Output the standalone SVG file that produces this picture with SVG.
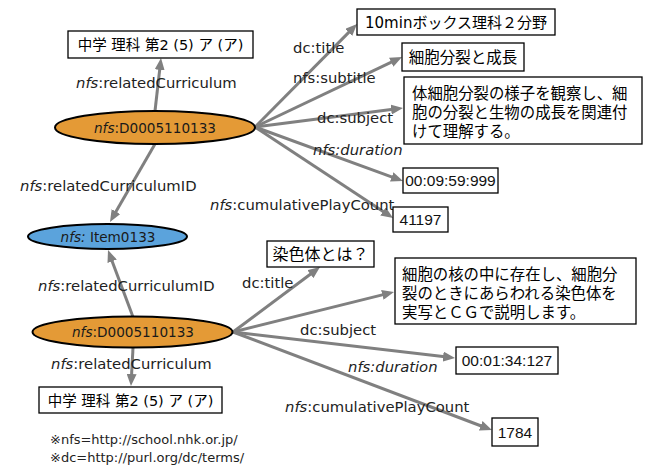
<svg xmlns="http://www.w3.org/2000/svg" width="647" height="468" viewBox="0 0 647 468">
<defs>
<marker id="ah" viewBox="0 0 12 10" refX="2" refY="5" markerWidth="12" markerHeight="10" markerUnits="userSpaceOnUse" orient="auto">
<path d="M0,0 L12,5 L0,10 z" fill="#808080"/>
</marker>
</defs>
<style>
.bg{fill:#ffffff}
.edge{stroke:#808080;stroke-width:3;fill:none;marker-end:url(#ah)}
.box{fill:#ffffff;stroke:#000000;stroke-width:1.3}
.res{fill:#E49A36;stroke:#000000;stroke-width:2}
.item{fill:#5BA3DC;stroke:#000000;stroke-width:2}
.lbl{font-family:"DejaVu Sans","Noto Sans CJK JP",sans-serif;font-size:14.8px;fill:#222222}
.ntx{font-family:"DejaVu Sans","Noto Sans CJK JP",sans-serif;font-size:13.6px;fill:#1a1a1a;text-anchor:middle}
.jp{font-family:"DejaVu Sans","Noto Sans CJK JP",sans-serif;font-size:15px;fill:#000000}
.num{font-family:"Liberation Sans",Arial,sans-serif;font-size:15.5px;fill:#111111;text-anchor:middle}
.mid{text-anchor:middle}
.i{font-style:italic}
.note{font-family:"DejaVu Sans","Noto Sans CJK JP",sans-serif;font-size:13px;fill:#222222}
</style>
<rect class="bg" x="0" y="0" width="647" height="468"/>

<g id="connectors">
<line class="edge" x1="155" y1="111" x2="159.9" y2="67.9"/>
<line class="edge" x1="155" y1="144" x2="115" y2="213.3"/>
<line class="edge" x1="133" y1="317" x2="111.5" y2="259.4"/>
<line class="edge" x1="133" y1="348" x2="131.5" y2="376"/>
<line class="edge" x1="255" y1="127" x2="350" y2="31.1"/>
<line class="edge" x1="255" y1="127" x2="393" y2="61.3"/>
<line class="edge" x1="255" y1="127" x2="393.1" y2="109.3"/>
<line class="edge" x1="255" y1="127" x2="393.6" y2="177.6"/>
<line class="edge" x1="255" y1="127" x2="384.7" y2="212.5"/>
<line class="edge" x1="233" y1="332" x2="312" y2="273"/>
<line class="edge" x1="233" y1="332" x2="384.3" y2="294.4"/>
<line class="edge" x1="233" y1="332" x2="445.1" y2="356.8"/>
<line class="edge" x1="233" y1="332" x2="482.6" y2="426.5"/>
</g>

<g id="edge-labels">
<text class="lbl" x="76" y="88"><tspan class="i">nfs</tspan>:relatedCurriculum</text>
<text class="lbl" x="20" y="191"><tspan class="i">nfs</tspan>:relatedCurriculumID</text>
<text class="lbl" x="210" y="210"><tspan class="i">nfs</tspan>:cumulativePlayCount</text>
<text class="lbl" x="293" y="53">dc:title</text>
<text class="lbl" x="293" y="83">nfs:subtitle</text>
<text class="lbl" x="317" y="123">dc:subject</text>
<text class="lbl i" x="313" y="155">nfs:duration</text>
<text class="lbl" x="38" y="291"><tspan class="i">nfs</tspan>:relatedCurriculumID</text>
<text class="lbl" x="51" y="369"><tspan class="i">nfs</tspan>:relatedCurriculum</text>
<text class="lbl" x="242" y="288">dc:title</text>
<text class="lbl" x="300" y="335">dc:subject</text>
<text class="lbl i" x="348" y="372">nfs:duration</text>
<text class="lbl" x="285" y="412"><tspan class="i">nfs</tspan>:cumulativePlayCount</text>
</g>

<g id="node-res1">
<ellipse class="res" cx="155" cy="127.5" rx="100" ry="16.5"/>
<text class="ntx" x="155" y="133"><tspan class="i">nfs</tspan>:D0005110133</text>
</g>
<g id="node-item">
<ellipse class="item" cx="107.5" cy="236.5" rx="79.5" ry="12.5"/>
<text class="ntx" x="108" y="242"><tspan class="i">nfs:</tspan> Item0133</text>
</g>
<g id="node-res2">
<ellipse class="res" cx="132.5" cy="332" rx="100" ry="15.5"/>
<text class="ntx" x="133" y="337"><tspan class="i">nfs</tspan>:D0005110133</text>
</g>

<g id="node-curr1">
<rect class="box" x="68" y="31" width="185" height="27"/>
<text class="jp mid" x="160.5" y="50" style="font-size:14.5px">中学 理科 第2 (5) ア (ア)</text>
</g>
<g id="node-title1">
<rect class="box" x="357" y="9" width="198" height="26"/>
<text class="jp mid" x="456" y="28">10minボックス理科２分野</text>
</g>
<g id="node-subtitle1">
<rect class="box" x="402" y="43" width="122" height="28"/>
<text class="jp mid" x="463" y="63" style="font-size:15.5px">細胞分裂と成長</text>
</g>
<g id="node-subject1">
<rect class="box" x="404" y="77" width="238" height="67"/>
<text class="jp" x="412" y="99" style="font-size:15.4px">体細胞分裂の様子を観察し、細</text>
<text class="jp" x="412" y="118" style="font-size:15.4px">胞の分裂と生物の成長を関連付</text>
<text class="jp" x="412" y="137" style="font-size:15.4px">けて理解する。</text>
</g>
<g id="node-duration1">
<rect class="box" x="403" y="168" width="95" height="25"/>
<text class="num" x="450.5" y="186">00:09:59:999</text>
</g>
<g id="node-count1">
<rect class="box" x="393" y="207" width="55" height="25"/>
<text class="num" x="420.5" y="225">41197</text>
</g>

<g id="node-title2">
<rect class="box" x="267" y="241" width="107" height="26"/>
<text class="jp mid" x="320.5" y="260" style="font-size:16px">染色体とは？</text>
</g>
<g id="node-subject2">
<rect class="box" x="395" y="258" width="241" height="66"/>
<text class="jp" x="402" y="280" style="font-size:15.4px">細胞の核の中に存在し、細胞分</text>
<text class="jp" x="402" y="299" style="font-size:15.4px">裂のときにあらわれる染色体を</text>
<text class="jp" x="402" y="318" style="font-size:15.4px">実写とＣＧで説明します。</text>
</g>
<g id="node-duration2">
<rect class="box" x="456" y="347" width="102" height="27"/>
<text class="num" x="507" y="366">00:01:34:127</text>
</g>
<g id="node-count2">
<rect class="box" x="492" y="418" width="46" height="28"/>
<text class="num" x="515" y="437.5">1784</text>
</g>
<g id="node-curr2">
<rect class="box" x="39" y="387" width="183" height="26"/>
<text class="jp mid" x="130.5" y="405.5" style="font-size:14.5px">中学 理科 第2 (5) ア (ア)</text>
</g>

<g id="notes">
<text class="note" x="50" y="444">※nfs=http://school.nhk.or.jp/</text>
<text class="note" x="50" y="462">※dc=http://purl.org/dc/terms/</text>
</g>
</svg>
